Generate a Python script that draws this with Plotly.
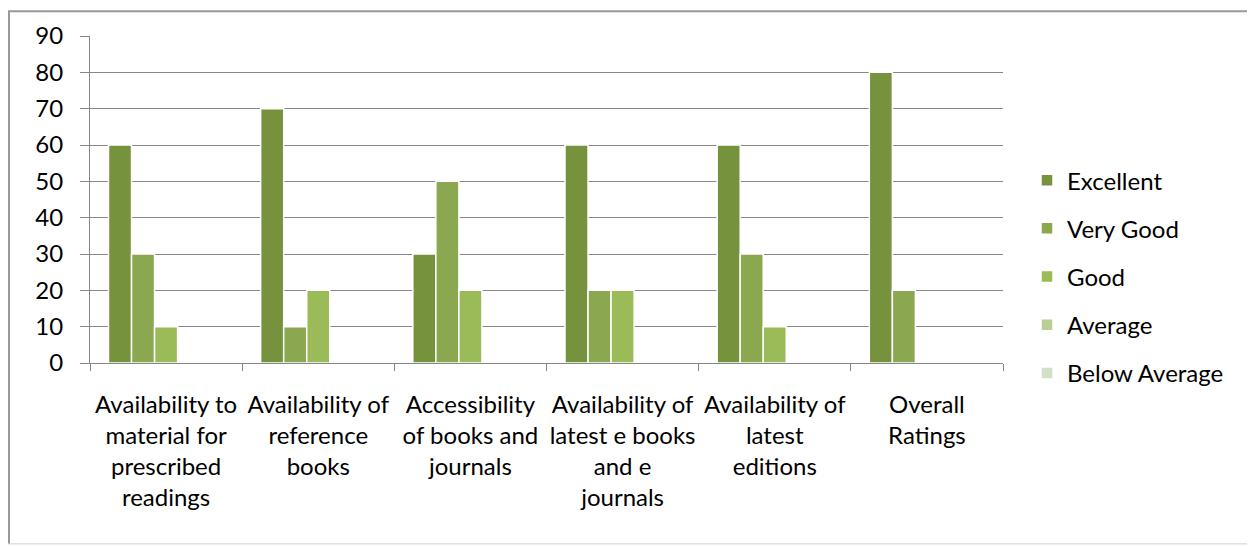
import plotly.graph_objects as go

categories = [
    "Availability to<br>material for<br>prescribed<br>readings",
    "Availability of<br>reference<br>books",
    "Accessibility<br>of books and<br>journals",
    "Availability of<br>latest e books<br>and e<br>journals",
    "Availability of<br>latest<br>editions",
    "Overall<br>Ratings",
]
series_names = ["Excellent", "Very Good", "Good", "Average", "Below Average"]
excellent = [60, 70, 30, 60, 60, 80]
very_good = [30, 10, 50, 20, 30, 20]
good = [10, 20, 20, 20, 10, 0]
average = [0, 0, 0, 0, 0, 0]
below_average = [0, 0, 0, 0, 0, 0]
y_ticks = [0, 10, 20, 30, 40, 50, 60, 70, 80, 90]

series_values = [excellent, very_good, good, average, below_average]
colors = ["#76923C", "#8BA74F", "#9BBB59", "#B9CD96", "#D3DFC6"]

FONT = "Lato"
GRID = "#868686"

fig = go.Figure()
for i, (name, vals) in enumerate(zip(series_names, series_values)):
    fig.add_trace(go.Bar(
        x=categories, y=vals, name=name, legendgroup=name,
        marker=dict(color=colors[i], line=dict(color="white", width=1.5)),
    ))

# page has an 8px body margin; figure coordinates below are page - 8
FW, FH = 1247, 538
L, R, T, B = 82, 995, 26, 355
W, H = R - L, B - T
def px_x(p):
    return (p - L) / W
def px_y(p):
    return (B - p) / H

fig.update_layout(
    width=FW, height=FH,
    margin=dict(l=L, r=FW - R, t=T, b=FH - B),
    paper_bgcolor="white", plot_bgcolor="white",
    font=dict(family=FONT, size=24, color="black"),
    barmode="group", bargap=0.243, bargroupgap=0,
    showlegend=True,
    legend=dict(x=px_x(1019), xanchor="left", y=px_y(268), yanchor="middle",
                font=dict(family=FONT, size=24, color="black"),
                tracegroupgap=14, bgcolor="rgba(0,0,0,0)"),
    xaxis=dict(type="category", tickson="boundaries", ticks="outside", ticklen=7,
               tickcolor=GRID, showline=True, linecolor=GRID, linewidth=1,
               showgrid=False, ticklabelstandoff=20,
               tickfont=dict(family=FONT, size=24, color="black"),
               tickangle=0),
    yaxis=dict(range=[0, 90], tickvals=y_ticks, ticks="outside", ticklen=9,
               tickcolor=GRID, showline=True, linecolor=GRID, linewidth=1,
               showgrid=True, gridcolor=GRID, gridwidth=1, zeroline=False,
               ticklabelstandoff=12,
               tickfont=dict(family=FONT, size=24, color="black")),
    shapes=[
        dict(type="line", xref="paper", yref="paper", x0=px_x(1), x1=px_x(1),
             y0=px_y(537), y1=px_y(1), line=dict(color="#999999", width=2)),
        dict(type="line", xref="paper", yref="paper", x0=px_x(0), x1=px_x(1246),
             y0=px_y(1), y1=px_y(1), line=dict(color="#999999", width=2)),
        dict(type="line", xref="paper", yref="paper", x0=px_x(1246), x1=px_x(1246),
             y0=px_y(537), y1=px_y(1), line=dict(color="#D0D0D0", width=1)),
        dict(type="line", xref="paper", yref="paper", x0=px_x(0), x1=px_x(1246),
             y0=px_y(537), y1=px_y(537), line=dict(color="#D0D0D0", width=1)),
    ],
)

fig.write_html("out.html")
